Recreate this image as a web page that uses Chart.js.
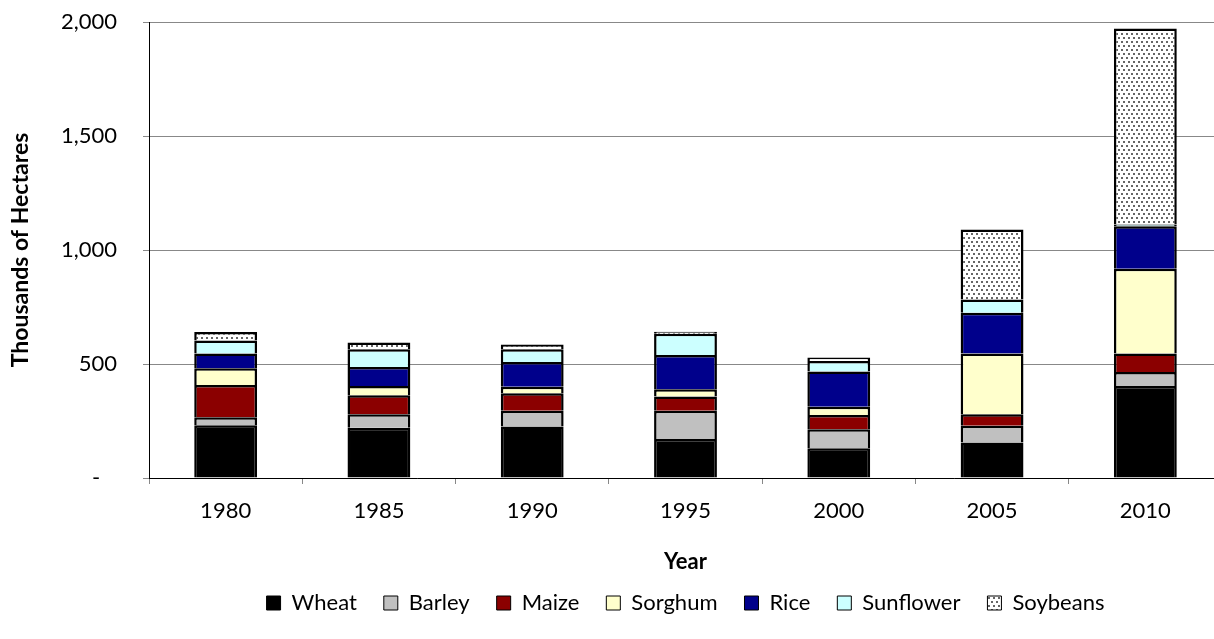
<!DOCTYPE html>
<html>
<head>
<meta charset="utf-8">
<script src="https://cdn.jsdelivr.net/npm/chart.js@4"></script>
<style>
  html, body { margin: 0; padding: 0; background: #fff; overflow: hidden; }
  #wrap { width: 1240px; height: 639px; }
</style>
</head>
<body>
<div id="wrap"><canvas id="crop-area"></canvas></div>
<script>
// Harvested area by crop, thousands of hectares
const years = ["1980", "1985", "1990", "1995", "2000", "2005", "2010"];
const wheat = [231, 220, 226, 171, 130, 156, 404];
const barley = [35, 60, 69, 124, 84, 73, 61];
const maize = [142, 83, 77, 62, 62, 51, 81];
const sorghum = [73, 41, 28, 32, 36, 266, 372];
const rice = [65, 83, 109, 151, 155, 179, 186];
const sunflower = [57, 78, 56, 93, 46, 58, 8];
const soybeans = [37, 29, 21, 8, 15, 307, 860];
const yTicks = [0, 500, 1000, 1500, 2000];

// dotted fill for soybeans
const dots = (() => {
  const c = document.createElement("canvas");
  c.width = 10;
  c.height = 8;
  const g = c.getContext("2d");
  g.fillStyle = "#fff";
  g.fillRect(0, 0, 10, 8);
  g.fillStyle = "#666";
  [[1, 1], [6, 1], [3, 5], [8, 5]].forEach(([x, y]) => g.fillRect(x, y, 2, 2));
  return g.createPattern(c, "repeat");
})();

const series = [
  { label: "Wheat", data: wheat, color: "#000000" },
  { label: "Barley", data: barley, color: "#c0c0c0" },
  { label: "Maize", data: maize, color: "#8b0000" },
  { label: "Sorghum", data: sorghum, color: "#ffffcc" },
  { label: "Rice", data: rice, color: "#00008b" },
  { label: "Sunflower", data: sunflower, color: "#ccffff" },
  { label: "Soybeans", data: soybeans, color: dots },
];

const FONT = "Lato";
Chart.defaults.color = "#000";
Chart.defaults.font.family = FONT;

// center the legend under the plot area and pull it up a little
const legendUnderPlot = {
  id: "legendUnderPlot",
  afterLayout(chart) {
    const lg = chart.legend;
    lg.left = chart.chartArea.left;
    lg.right = chart.chartArea.right;
    lg.width = lg.right - lg.left;
    lg.top -= 15;
    lg.bottom -= 15;
  },
};

new Chart(document.getElementById("crop-area"), {
  type: "bar",
  plugins: [legendUnderPlot],
  data: {
    labels: years,
    datasets: series.map((s) => ({
      label: s.label,
      data: s.data,
      backgroundColor: s.color,
      borderColor: "#000",
      borderWidth: 2.5,
      categoryPercentage: 0.41,
      barPercentage: 1,
    })),
  },
  options: {
    responsive: true,
    maintainAspectRatio: false,
    animation: false,
    devicePixelRatio: 1,
    layout: { padding: { top: 22, right: 18, bottom: 0, left: 0 } },
    plugins: {
      tooltip: { enabled: false },
      legend: {
        position: "bottom",
        labels: {
          font: { size: 22 },
          boxWidth: 14,
          boxHeight: 14,
          padding: 27,
          generateLabels: (chart) =>
            Chart.defaults.plugins.legend.labels
              .generateLabels(chart)
              .map((l) => ({ ...l, lineWidth: 1 })),
        },
      },
    },
    scales: {
      x: {
        stacked: true,
        afterFit: (scale) => {
          scale.height = 102;
        },
        grid: {
          drawOnChartArea: false,
          drawTicks: true,
          tickLength: 6,
          color: "#888",
        },
        border: { color: "#000", width: 1 },
        ticks: { font: { size: 22 }, padding: 14 },
        title: {
          display: true,
          text: "Year",
          font: { size: 22, weight: "bold" },
          padding: { bottom: 5 },
        },
      },
      y: {
        stacked: true,
        min: 0,
        max: 2000,
        afterFit: (scale) => {
          scale.width = 149;
          // keep the wide label gap from pushing the plot down
          scale.paddingTop = 0;
          scale.paddingBottom = 0;
        },
        afterBuildTicks: (scale) => {
          scale.ticks = yTicks.map((v) => ({ value: v }));
        },
        grid: {
          color: "#888",
          tickLength: 6,
        },
        border: { color: "#000", width: 1 },
        ticks: {
          font: { size: 22 },
          padding: 26,
          callback: (v) => (v === 0 ? "-   " : v.toLocaleString("en-US")),
        },
        title: {
          display: true,
          text: "Thousands of Hectares",
          font: { size: 23, weight: "bold" },
          padding: { top: 7 },
        },
      },
    },
  },
});
</script>
</body>
</html>
